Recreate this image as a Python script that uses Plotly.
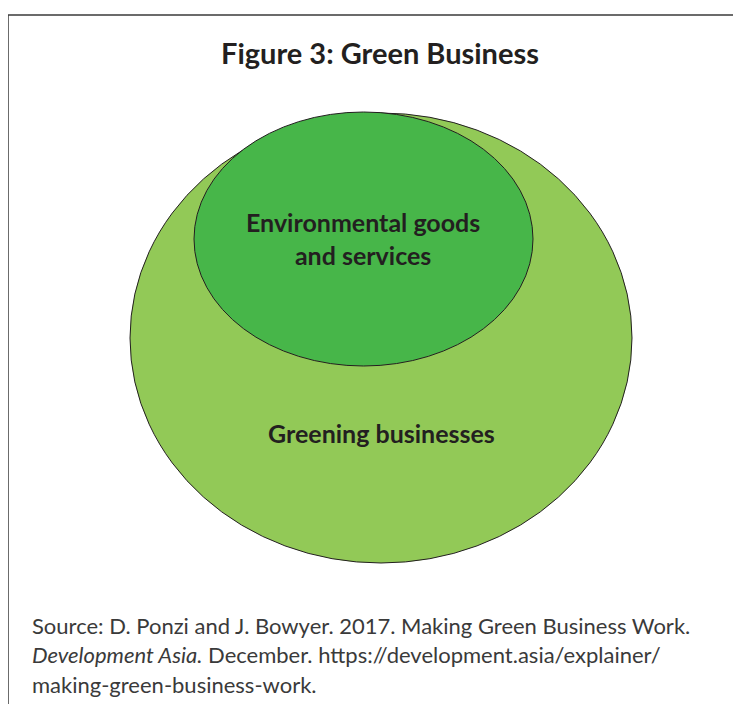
import plotly.graph_objects as go

# ---- content ----
title_text = "Figure 3: Green Business"
set_names = ["Greening businesses", "Environmental goods<br>and services"]
set_colors = ["#92C957", "#47B649"]
# ellipse bounds (x0, x1, y0, y1) in page pixels, outer first
set_bounds = [(130, 632, 113, 563), (194, 533, 112, 366)]
label_pos = [(381, 433), (363, 238)]
source_lines = [
    "Source: D. Ponzi and J. Bowyer. 2017. Making Green Business Work.",
    "<i>Development Asia.</i> December. https://development.asia/explainer/",
    "making-green-business-work.",
]

W, H = 741, 704
OFF = 8  # page body margin offset
fig = go.Figure()
fig.add_trace(go.Scatter(x=[0, W], y=[0, H], mode="markers",
                         marker=dict(opacity=0), hoverinfo="skip", showlegend=False))

for (x0, x1, y0, y1), col in zip(set_bounds, set_colors):
    fig.add_shape(type="circle", xref="x", yref="y", x0=x0, x1=x1, y0=y0, y1=y1,
                  fillcolor=col, line=dict(color="#231F20", width=1), layer="above")

for name, (lx, ly) in zip(set_names, label_pos):
    fig.add_annotation(x=lx, y=ly, xref="x", yref="y", text="<b>" + name + "</b>",
                       showarrow=False, font=dict(family="Lato", size=25, color="#231F20"),
                       align="center")

# frame
fig.add_shape(type="line", xref="x", yref="y", x0=8, x1=W + OFF, y0=15, y1=15,
              line=dict(color="#3a3a3a", width=1.5))
fig.add_shape(type="line", xref="x", yref="y", x0=8, x1=8, y0=15, y1=H + OFF,
              line=dict(color="#3a3a3a", width=1.5))

fig.add_annotation(x=380, y=52, xref="x", yref="y", text="<b>" + title_text + "</b>",
                   showarrow=False, font=dict(family="Lato", size=29, color="#231F20"))

for i, line in enumerate(source_lines):
    fig.add_annotation(x=30, y=625 + i * 29.5, xref="x", yref="y", text=line,
                       showarrow=False, xanchor="left",
                       font=dict(family="Lato", size=22, color="#3a3a3a"))

fig.update_layout(width=W, height=H, margin=dict(l=0, r=0, t=0, b=0),
                  paper_bgcolor="white", plot_bgcolor="white", showlegend=False)
fig.update_xaxes(range=[OFF, W + OFF], visible=False, fixedrange=True)
fig.update_yaxes(range=[H + OFF, OFF], visible=False, fixedrange=True)
fig.write_html("out.html")
